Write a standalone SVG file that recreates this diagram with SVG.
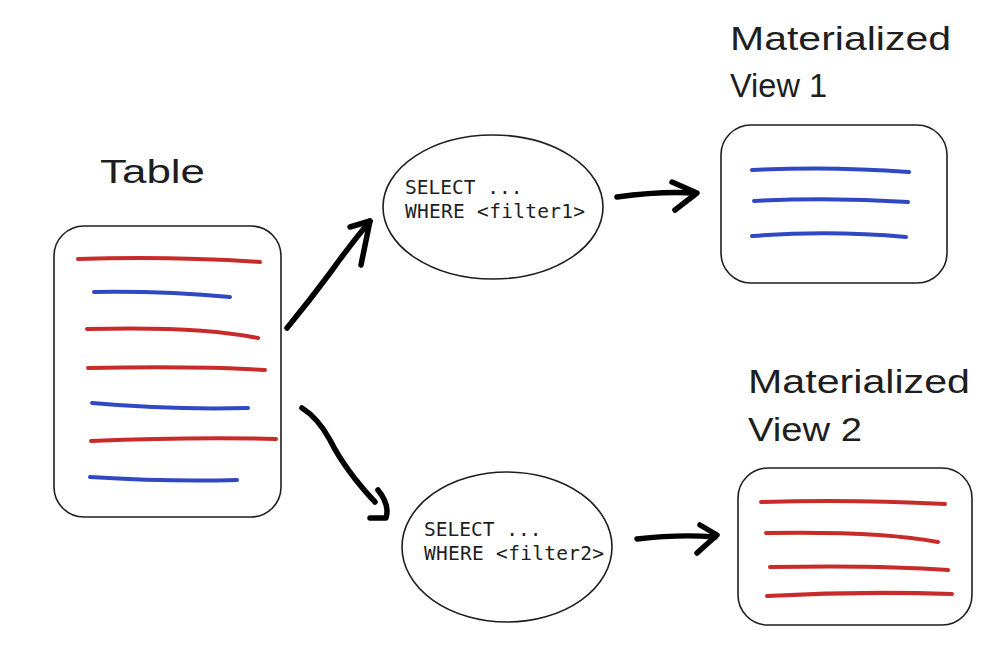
<svg xmlns="http://www.w3.org/2000/svg" width="1004" height="658" viewBox="0 0 1004 658">
<style>
.box{fill:#fff;stroke:#1e1e1e;stroke-width:1.6}
.red{fill:none;stroke:#c92a2a;stroke-width:4;stroke-linecap:round}
.blue{fill:none;stroke:#3148c5;stroke-width:4;stroke-linecap:round}
.arrow{fill:none;stroke:#000;stroke-width:5.5;stroke-linecap:round;stroke-linejoin:round}
.hand{font-family:"Liberation Sans","DejaVu Sans",sans-serif;font-size:34px;fill:#1e1e1e}
.code{font-family:"DejaVu Sans Mono","Liberation Mono",monospace;font-size:19.5px;fill:#1e1e1e}
</style>
<rect width="1004" height="658" fill="#fff"/>

<g id="table">
<text class="hand" x="100" y="183" textLength="105" lengthAdjust="spacingAndGlyphs">Table</text>
<rect class="box" x="54" y="226" width="227" height="291" rx="30"/>
<path class="red" d="M78,259 Q170,256 260,262"/>
<path class="blue" d="M94,292 Q165,291 230,297"/>
<path class="red" d="M87,329 Q200,326 258,338"/>
<path class="red" d="M88,368 Q200,366 265,370"/>
<path class="blue" d="M92,403 Q170,410 248,408"/>
<path class="red" d="M91,441 Q190,437 276,439"/>
<path class="blue" d="M90,477 Q170,482 237,480"/>
</g>

<g id="query1">
<ellipse class="box" cx="493" cy="207" rx="110" ry="72"/>
<text class="code" x="405" y="194">SELECT ...</text>
<text class="code" x="405" y="218" textLength="180">WHERE &lt;filter1&gt;</text>
</g>

<g id="query2">
<ellipse class="box" cx="507" cy="547" rx="105" ry="75"/>
<text class="code" x="424" y="536">SELECT ...</text>
<text class="code" x="424" y="560" textLength="180">WHERE &lt;filter2&gt;</text>
</g>

<g id="mv1">
<text class="hand" x="730" y="50" textLength="221" lengthAdjust="spacingAndGlyphs">Materialized</text>
<text class="hand" x="730" y="97" textLength="97" lengthAdjust="spacingAndGlyphs">View 1</text>
<rect class="box" x="721" y="125" width="226" height="158" rx="30"/>
<path class="blue" d="M752,170 Q830,166 909,172"/>
<path class="blue" d="M754,201 Q830,197 908,202"/>
<path class="blue" d="M752,236 Q830,230 906,237"/>
</g>

<g id="mv2">
<text class="hand" x="748" y="393" textLength="222" lengthAdjust="spacingAndGlyphs">Materialized</text>
<text class="hand" x="748" y="441" textLength="114" lengthAdjust="spacingAndGlyphs">View 2</text>
<rect class="box" x="738" y="468" width="234" height="157" rx="30"/>
<path class="red" d="M761,502 Q850,499 945,504"/>
<path class="red" d="M766,533 Q880,531 938,542"/>
<path class="red" d="M770,567 Q880,565 948,570"/>
<path class="red" d="M767,596 Q860,591 952,594"/>
</g>

<g id="connectors">
<path class="arrow" d="M287,328 Q310,300 330,273 Q350,245 370,221"/>
<path class="arrow" d="M350,227 L370,221 L361,265"/>
<path class="arrow" d="M302,408 Q318,418 330,440 Q345,470 375,502"/>
<path class="arrow" d="M378,490 Q390,505 386,518 L370,518"/>
<path class="arrow" d="M617,197 Q660,191 695,193"/>
<path class="arrow" d="M672,182 L697,193 L675,210"/>
<path class="arrow" d="M637,539 Q680,534 715,537"/>
<path class="arrow" d="M700,525 L717,535 L697,553"/>
</g>
</svg>
